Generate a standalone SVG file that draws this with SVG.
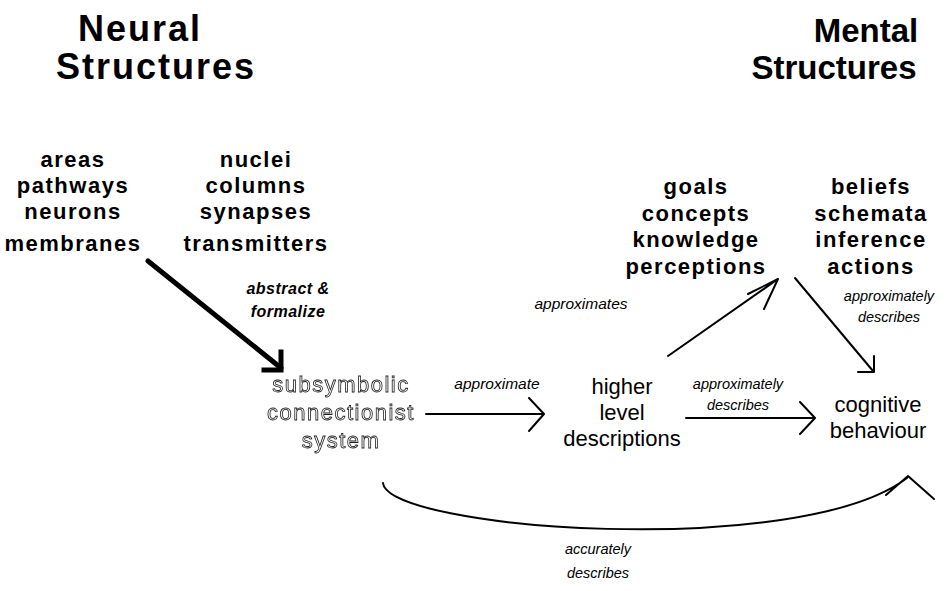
<svg xmlns="http://www.w3.org/2000/svg" width="952" height="591" viewBox="0 0 952 591">
<defs>
<filter id="flat" x="0" y="0" width="1" height="1"><feOffset dx="0" dy="0"/></filter>
</defs>
<style>
text{font-family:"Liberation Sans",Arial,sans-serif;text-anchor:middle;fill:#000}
.title{font-size:33px;font-weight:bold}
.ltitle{font-size:36px;font-weight:bold;letter-spacing:2px}
.item{font-size:22px;font-weight:bold;letter-spacing:1.5px}
.node{font-size:22px}
.outline{font-size:22px;fill:#fff;stroke:#222;stroke-width:0.8;letter-spacing:1.5px}
.lab{font-size:14.5px;font-style:italic}
.blab{font-size:16px;font-style:italic;font-weight:bold;letter-spacing:0.5px}
.c{fill:none;stroke:#000;stroke-width:2;stroke-linecap:round;stroke-linejoin:round}
</style>
<rect width="952" height="591" fill="#fff"/>
<g id="neural-title">
<text class="ltitle" x="140" y="41">Neural</text>
<text class="ltitle" x="156" y="79">Structures</text>
</g>
<g id="mental-title">
<text class="title" x="866" y="42">Mental</text>
<text class="title" x="834" y="79">Structures</text>
</g>
<g id="neural-col1">
<text class="item" x="73" y="167">areas</text>
<text class="item" x="73" y="193">pathways</text>
<text class="item" x="73" y="219">neurons</text>
<text class="item" x="73" y="251">membranes</text>
</g>
<g id="neural-col2">
<text class="item" x="256" y="167">nuclei</text>
<text class="item" x="256" y="193">columns</text>
<text class="item" x="256" y="219">synapses</text>
<text class="item" x="256" y="251">transmitters</text>
</g>
<g id="mental-col1">
<text class="item" x="696" y="194">goals</text>
<text class="item" x="696" y="221">concepts</text>
<text class="item" x="696" y="247">knowledge</text>
<text class="item" x="696" y="274">perceptions</text>
</g>
<g id="mental-col2">
<text class="item" x="871" y="194">beliefs</text>
<text class="item" x="871" y="221">schemata</text>
<text class="item" x="871" y="247">inference</text>
<text class="item" x="871" y="274">actions</text>
</g>
<g id="subsymbolic" filter="url(#flat)">
<rect x="255" y="370" width="175" height="85" fill="#fff"/>
<text class="outline" x="341" y="392">subsymbolic</text>
<text class="outline" x="341" y="420">connectionist</text>
<text class="outline" x="341" y="448">system</text>
</g>
<g id="higher-level">
<text class="node" x="622" y="394">higher</text>
<text class="node" x="622" y="420">level</text>
<text class="node" x="622" y="446">descriptions</text>
</g>
<g id="cognitive-behaviour">
<text class="node" x="878" y="412">cognitive</text>
<text class="node" x="878" y="438">behaviour</text>
</g>
<g id="connectors">
<path d="M148 261 L281 368" class="c" style="stroke-width:5"/>
<path d="M281 352 L281 370 L264 370" class="c" style="stroke-width:5;stroke-linecap:square;stroke-linejoin:miter"/>
<text class="blab" x="288" y="294">abstract &amp;</text>
<text class="blab" x="288" y="317">formalize</text>

<path d="M426 414 L543 414 M529 398 L544 414 L529 431" class="c"/>
<text class="lab" x="497" y="389" style="font-size:15.5px">approximate</text>

<path d="M686 418 L814 418 M800 402 L815 418 L800 434" class="c"/>
<text class="lab" x="738" y="389">approximately</text>
<text class="lab" x="738" y="410">describes</text>

<path d="M668 356 L778 279 M748 294 L778 279 L764 309" class="c"/>
<text class="lab" x="581" y="309" style="font-size:15.5px">approximates</text>

<path d="M795 278 L873 371 M874 356 L874 372 L858 372" class="c"/>
<text class="lab" x="889" y="301">approximately</text>
<text class="lab" x="889" y="322">describes</text>

<path d="M383 483 C388 530, 800 560, 907 478 M886 495 L908 476 L934 499" class="c"/>
<text class="lab" x="598" y="554">accurately</text>
<text class="lab" x="598" y="578">describes</text>
</g>
</svg>
